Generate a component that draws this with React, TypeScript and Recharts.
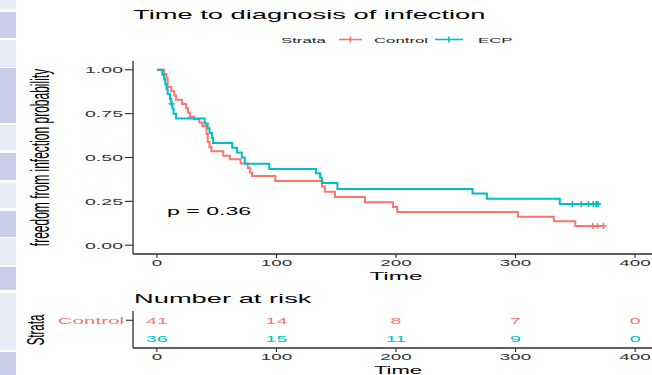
import React from "react";
import {
  ComposedChart,
  Line,
  Scatter,
  ScatterChart,
  XAxis,
  YAxis,
} from "recharts";

// Kaplan-Meier step points (time, survival)
const controlTimes = [0, 6, 8, 9, 12, 14.5, 16, 21, 24.5, 26, 27.5, 31, 35.5, 38, 41.5, 42.5, 44, 45.5, 55.5, 61, 70, 76, 78, 79.5, 99, 138, 140.5, 149, 174, 197.5, 201, 302, 332, 350, 373.6];
const controlSurv = [1, 0.976, 0.951, 0.902, 0.878, 0.854, 0.829, 0.805, 0.78, 0.756, 0.732, 0.72, 0.7, 0.68, 0.634, 0.59, 0.56, 0.535, 0.51, 0.49, 0.466, 0.44, 0.415, 0.395, 0.366, 0.335, 0.305, 0.275, 0.245, 0.218, 0.19, 0.163, 0.137, 0.11, 0.11];
const controlCensorTimes = [364.5, 368.5, 373.6];
const controlCensorSurv = [0.11, 0.11, 0.11];

const ecpTimes = [0, 4.5, 6, 7, 8, 9, 11, 12, 13, 14, 16, 40, 42.5, 44, 46, 47, 63, 67, 71, 73.5, 94, 133, 136.5, 138, 151, 264, 276, 337, 369];
const ecpSurv = [1, 0.972, 0.944, 0.917, 0.889, 0.861, 0.833, 0.806, 0.778, 0.75, 0.722, 0.694, 0.667, 0.639, 0.611, 0.583, 0.555, 0.528, 0.5, 0.465, 0.435, 0.41, 0.385, 0.355, 0.32, 0.295, 0.265, 0.235, 0.235];
const ecpCensorTimes = [12.3, 347.5, 355, 361, 365, 367.5, 369];
const ecpCensorSurv = [0.806, 0.235, 0.235, 0.235, 0.235, 0.235, 0.235];

// number at risk table
const riskTimes = [0, 100, 200, 300, 400];
const controlRisk = [41, 14, 8, 7, 0];
const ecpRisk = [36, 15, 11, 9, 0];

const xTicks = [0, 100, 200, 300, 400];
const yTicks = [0, 0.25, 0.5, 0.75, 1];

const RED = "#F8766D";
const TEAL = "#00BFC4";
const AXIS = "#2b2b2b";
const FONT = "'Liberation Sans', Arial, Helvetica, sans-serif";
const SX = 2.1; // the picture is stretched sideways

const controlCurve = controlTimes.map((t, i) => ({ t, s: controlSurv[i] }));
const ecpCurve = ecpTimes.map((t, i) => ({ t, s: ecpSurv[i] }));
const controlCensor = controlCensorTimes.map((t, i) => ({ t, s: controlCensorSurv[i] }));
const ecpCensor = ecpCensorTimes.map((t, i) => ({ t, s: ecpCensorSurv[i] }));
const controlRiskRow = riskTimes.map((t, i) => ({ t, row: 1, n: controlRisk[i] }));
const ecpRiskRow = riskTimes.map((t, i) => ({ t, row: 0, n: ecpRisk[i] }));

function WText({
  x,
  y,
  size,
  fill = "#000",
  anchor = "start",
  dy,
  children,
}: any) {
  return (
    <text
      transform={`translate(${x},${y}) scale(${SX},1)`}
      fontSize={size}
      fill={fill}
      textAnchor={anchor}
      dy={dy}
      fontFamily={FONT}
    >
      {children}
    </text>
  );
}

function YTick(props: any) {
  const { x, y, payload } = props;
  return (
    <WText x={x} y={y} size={9.3} fill="#333" anchor="end" dy="0.36em">
      {Number(payload.value).toFixed(2)}
    </WText>
  );
}

function XTick(props: any) {
  const { x, y, payload } = props;
  return (
    <WText x={x} y={y} size={9} fill="#333" anchor="middle" dy="0.71em">
      {payload.value}
    </WText>
  );
}

function StrataTick(props: any) {
  const { x, y, payload } = props;
  const isControl = payload.value === 1;
  return (
    <WText
      x={x}
      y={y}
      size={9.8}
      fill={isControl ? RED : TEAL}
      anchor="end"
      dy="0.36em"
    >
      {isControl ? "Control" : "ECP"}
    </WText>
  );
}

function censorShape(color: string) {
  return (p: any) => (
    <g stroke={color} strokeWidth={1.6}>
      <line x1={p.cx} y1={p.cy - 3} x2={p.cx} y2={p.cy + 3} />
      <line x1={p.cx - 3} y1={p.cy} x2={p.cx + 3} y2={p.cy} />
    </g>
  );
}

function riskShape(color: string) {
  return (p: any) => (
    <WText x={p.cx} y={p.cy} size={9.3} fill={color} anchor="middle" dy="0.36em">
      {p.payload.n}
    </WText>
  );
}

const stripBlocks = [
  [0, 9, 0], [12, 38, 1], [40, 67, 0], [68, 123, 1], [125, 150, 0],
  [153, 180, 1], [183, 208, 0], [211, 237, 1], [238, 265, 0],
  [267, 290, 1], [293, 350, 0], [352, 375, 1],
];

export default function App() {
  return (
    <div
      style={{
        position: "absolute",
        left: 0,
        top: 0,
        width: 652,
        height: 375,
        overflow: "hidden",
        background: "#fff",
      }}
    >
      {stripBlocks.map(([a, b, d], i) => (
        <div
          key={i}
          style={{
            position: "absolute",
            left: 0,
            top: a,
            width: 16,
            height: b - a,
            background: d ? "#c9cee9" : "#e8eaf6",
          }}
        />
      ))}

      <div style={{ position: "absolute", left: 0, top: 0 }}>
        <ComposedChart
          width={680}
          height={284}
          margin={{ top: 61, right: 21, bottom: 0, left: 0 }}
        >
          <XAxis
            dataKey="t"
            type="number"
            domain={[-20, 420]}
            ticks={xTicks}
            allowDataOverflow
            height={30}
            tickSize={4}
            axisLine={{ stroke: AXIS, strokeWidth: 1.3 }}
            tickLine={{ stroke: AXIS, strokeWidth: 1.1 }}
            tick={(p: any) => <XTick {...p} />}
          />
          <YAxis
            type="number"
            domain={[-0.05, 1.05]}
            ticks={yTicks}
            allowDataOverflow
            width={133}
            tickSize={8}
            axisLine={{ stroke: AXIS, strokeWidth: 1.3 }}
            tickLine={{ stroke: AXIS, strokeWidth: 1.1 }}
            tick={(p: any) => <YTick {...p} />}
          />
          <Line
            data={controlCurve}
            dataKey="s"
            type="stepAfter"
            stroke={RED}
            strokeWidth={2}
            dot={false}
            isAnimationActive={false}
          />
          <Line
            data={ecpCurve}
            dataKey="s"
            type="stepAfter"
            stroke={TEAL}
            strokeWidth={2}
            dot={false}
            isAnimationActive={false}
          />
          <Scatter
            data={controlCensor}
            dataKey="s"
            shape={censorShape(RED)}
            isAnimationActive={false}
          />
          <Scatter
            data={ecpCensor}
            dataKey="s"
            shape={censorShape(TEAL)}
            isAnimationActive={false}
          />
        </ComposedChart>
      </div>

      <div style={{ position: "absolute", left: 0, top: 300 }}>
        <ScatterChart
          width={680}
          height={75}
          margin={{ top: 11, right: 21, bottom: 0, left: 0 }}
        >
          <XAxis
            dataKey="t"
            type="number"
            domain={[-20, 420]}
            ticks={xTicks}
            allowDataOverflow
            height={27}
            tickSize={4}
            axisLine={{ stroke: AXIS, strokeWidth: 1.3 }}
            tickLine={{ stroke: AXIS, strokeWidth: 1.1 }}
            tick={(p: any) => <XTick {...p} />}
          />
          <YAxis
            dataKey="row"
            type="number"
            domain={[-0.5, 1.5]}
            ticks={[0, 1]}
            width={133}
            tickSize={7}
            tickMargin={2}
            axisLine={{ stroke: AXIS, strokeWidth: 1.3 }}
            tickLine={{ stroke: AXIS, strokeWidth: 1.1 }}
            tick={(p: any) => <StrataTick {...p} />}
          />
          <Scatter
            data={controlRiskRow}
            shape={riskShape(RED)}
            isAnimationActive={false}
          />
          <Scatter
            data={ecpRiskRow}
            shape={riskShape(TEAL)}
            isAnimationActive={false}
          />
        </ScatterChart>
      </div>

      <svg
        width={652}
        height={375}
        style={{ position: "absolute", left: 0, top: 0, pointerEvents: "none" }}
      >
        <WText x={133} y={19} size={13}>
          Time to diagnosis of infection
        </WText>

        <WText x={281} y={42.5} size={8} fill="#222">
          Strata
        </WText>
        <line x1={339} y1={39.5} x2={362} y2={39.5} stroke={RED} strokeWidth={1.6} />
        <line x1={350.5} y1={36.5} x2={350.5} y2={42.5} stroke={RED} strokeWidth={1.6} />
        <WText x={374} y={42.5} size={8} fill="#222">
          Control
        </WText>
        <line x1={435} y1={39.5} x2={463} y2={39.5} stroke={TEAL} strokeWidth={1.6} />
        <line x1={449} y1={36.5} x2={449} y2={42.5} stroke={TEAL} strokeWidth={1.6} />
        <WText x={478} y={42.5} size={8} fill="#222">
          ECP
        </WText>

        <text
          transform={`translate(40,157.5) scale(${SX},1) rotate(-90)`}
          fontSize={12}
          textAnchor="middle"
          dy="0.35em"
          fontFamily={FONT}
        >
          freedom from infection probability
        </text>

        <WText x={167} y={215} size={11}>
          p = 0.36
        </WText>

        <WText x={396} y={280} size={11.6} anchor="middle">
          Time
        </WText>

        <WText x={134} y={303} size={13}>
          Number at risk
        </WText>

        <text
          transform={`translate(36,330) scale(${SX},1) rotate(-90)`}
          fontSize={11.5}
          textAnchor="middle"
          dy="0.35em"
          fontFamily={FONT}
        >
          Strata
        </text>

        <WText x={398} y={374} size={10.5} anchor="middle">
          Time
        </WText>
      </svg>
    </div>
  );
}
